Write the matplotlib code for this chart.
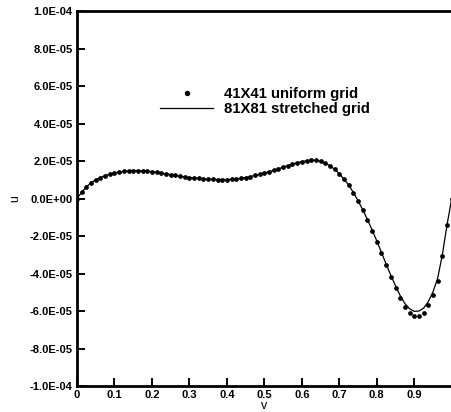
import numpy as np
import matplotlib
matplotlib.use("Agg")
import matplotlib.pyplot as plt
from matplotlib.ticker import FuncFormatter

plt.rcParams['font.family'] = ['Liberation Sans', 'DejaVu Sans']
plt.rcParams['font.weight'] = 'bold'

# grid positions (v) and u values in units of 1E-05
v = [0.0, 0.0125, 0.025, 0.0375, 0.05, 0.0625, 0.075, 0.0875, 0.1, 0.1125,
     0.125, 0.1375, 0.15, 0.1625, 0.175, 0.1875, 0.2, 0.2125, 0.225, 0.2375,
     0.25, 0.2625, 0.275, 0.2875, 0.3, 0.3125, 0.325, 0.3375, 0.35, 0.3625,
     0.375, 0.3875, 0.4, 0.4125, 0.425, 0.4375, 0.45, 0.4625, 0.475, 0.4875,
     0.5, 0.5125, 0.525, 0.5375, 0.55, 0.5625, 0.575, 0.5875, 0.6, 0.6125,
     0.625, 0.6375, 0.65, 0.6625, 0.675, 0.6875, 0.7, 0.7125, 0.725, 0.7375,
     0.75, 0.7625, 0.775, 0.7875, 0.8, 0.8125, 0.825, 0.8375, 0.85, 0.8625,
     0.875, 0.8875, 0.9, 0.9125, 0.925, 0.9375, 0.95, 0.9625, 0.975, 0.9875, 1.0]

# 41X41 uniform grid (dots)
u_uniform = [0.0, 0.33, 0.62, 0.84, 1.0, 1.12, 1.22, 1.30, 1.37, 1.41,
             1.45, 1.47, 1.49, 1.49, 1.48, 1.46, 1.43, 1.40, 1.36, 1.31,
             1.27, 1.23, 1.19, 1.15, 1.12, 1.09, 1.07, 1.05, 1.03, 1.02,
             1.01, 1.01, 1.01, 1.02, 1.04, 1.08, 1.12, 1.17, 1.23, 1.29,
             1.36, 1.43, 1.50, 1.58, 1.67, 1.76, 1.84, 1.91, 1.97, 2.01,
             2.04, 2.03, 1.98, 1.89, 1.75, 1.56, 1.32, 1.03, 0.70, 0.30,
             -0.15, -0.63, -1.15, -1.71, -2.30, -2.92, -3.55, -4.17, -4.75, -5.30,
             -5.80, -6.10, -6.25, -6.25, -6.10, -5.70, -5.15, -4.40, -3.05, -1.40, 0.0]

# 81X81 stretched grid (line)
u_stretched = [0.0, 0.33, 0.62, 0.84, 1.0, 1.12, 1.22, 1.30, 1.37, 1.41,
               1.45, 1.47, 1.49, 1.49, 1.48, 1.46, 1.43, 1.40, 1.36, 1.31,
               1.27, 1.23, 1.19, 1.15, 1.12, 1.09, 1.07, 1.05, 1.03, 1.02,
               1.01, 1.01, 1.01, 1.02, 1.04, 1.08, 1.12, 1.17, 1.23, 1.29,
               1.36, 1.43, 1.50, 1.58, 1.67, 1.76, 1.84, 1.91, 1.97, 2.01,
               2.04, 2.03, 1.98, 1.89, 1.75, 1.56, 1.32, 1.03, 0.72, 0.32,
               -0.12, -0.60, -1.12, -1.68, -2.26, -2.88, -3.50, -4.10, -4.66, -5.18,
               -5.60, -5.88, -6.02, -6.00, -5.85, -5.50, -4.98, -4.25, -3.00, -1.40, 0.0]

scale = 1e-05

fig = plt.figure(figsize=(4.52, 4.12), dpi=100)
ax = fig.add_axes([0.1704, 0.0631, 0.829, 0.9102])

ax.plot(v, np.array(u_uniform) * scale, linestyle='none', marker='o',
        markersize=2.4, color='black', label='41X41 uniform grid')
ax.plot(v, np.array(u_stretched) * scale, linestyle='-', linewidth=0.9,
        color='black', label='81X81 stretched grid')

ax.set_xlim(0, 1)
ax.set_ylim(-1e-04, 1e-04)
ax.set_xticks(np.arange(0, 10) / 10)
ax.set_yticks(np.arange(-5, 6) * 2e-05)
ax.xaxis.set_major_formatter(FuncFormatter(lambda x, p: '0' if x == 0 else '{:.1f}'.format(x)))
ax.yaxis.set_major_formatter(FuncFormatter(lambda y, p: '{:.1E}'.format(0.0 if abs(y) < 1e-12 else y)))
ax.tick_params(direction='in', length=6, width=1.4, labelsize=8, pad=3)

for s in ['left', 'bottom', 'top']:
    ax.spines[s].set_linewidth(2)
ax.spines['right'].set_linewidth(0.8)
ax.spines['right'].set_color('#999999')

ax.set_xlabel('v', fontsize=9, labelpad=0)
ax.set_ylabel('u', fontsize=9, labelpad=6)

ax.legend(loc='upper left', bbox_to_anchor=(0.221, 0.797), frameon=False,
          fontsize=10.7, handlelength=3.6, handletextpad=0.7, labelspacing=0.05,
          borderpad=0, borderaxespad=0, markerscale=1.2)

fig.savefig('out.png', dpi=100)
